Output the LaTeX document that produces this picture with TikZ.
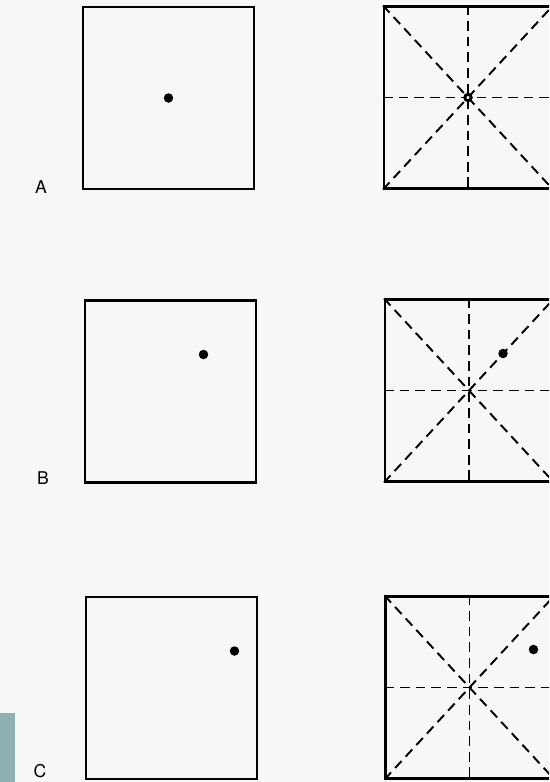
\documentclass[tikz,border=0pt]{standalone}
\usepackage{fontspec}
\setsansfont{TeX Gyre Heros}
\usetikzlibrary{calc}
\definecolor{paper}{RGB}{247,247,247}
\definecolor{tabteal}{RGB}{143,176,176}

\begin{document}
\begin{tikzpicture}[
  x=0.02cm, y=-0.02cm,
  panel/.style={draw, line width=1.2pt, minimum width=3.42cm, minimum height=3.64cm, inner sep=0pt},
  wide/.style={panel, minimum width=3.36cm},
  guide/.style={line width=1.1pt, dash pattern=on 5.5pt off 3.4pt},
  spot/.style={circle, fill, inner sep=0pt, minimum size=0.19cm},
  ring/.style={circle, draw, fill=white, line width=1.5pt, inner sep=0pt, minimum size=0.12cm},
  tag/.style={font=\sffamily\fontsize{10}{12}\selectfont}
]
  \useasboundingbox (0,0) rectangle (549,782);
  \fill[paper] (0,0) rectangle (549,782);
  \fill[tabteal] (0,713) rectangle (15,782);
  \clip (0,0) rectangle (549,782);

  % row A: centred
  \node[panel] (Aleft) at (168.5,98) {};
  \node[wide] (Aright) at (468,97.5) {};
  \node[spot] (Aspot) at (Aleft.center) {};
  \node[tag] (Atag) at (41,187) {A};

  % row B
  \node[panel] (Bleft) at (170.5,391.5) {};
  \node[wide] (Bright) at (469,390.5) {};
  \node[spot] (Bspot) at ($(Bleft.center)+(33,-37)$) {};
  \node[tag] (Btag) at (43,478) {B};

  % row C
  \node[panel] (Cleft) at (171.5,688) {};
  \node[wide] (Cright) at (469.5,687.5) {};
  \node[spot] (Cspot) at ($(Cleft.center)+(63,-37)$) {};
  \node[tag] (Ctag) at (40,771) {C};

  % symmetry axes
  \foreach \p in {Aright,Bright,Cright}{
    \draw[guide] (\p.north west) -- (\p.south east);
    \draw[guide] (\p.south west) -- (\p.north east);
    \draw[guide] (\p.north) -- (\p.south);
    \draw[guide] (\p.west) -- (\p.east);
  }

  \node[spot] (Adot) at (Aright.center) {};
  \node[ring] (Aeye) at (Aright.center) {};
  \node[spot] (Bdot) at ($(Bright.center)+(34,-37)$) {};
  \node[spot] (Cdot) at ($(Cright.center)+(64,-38)$) {};
\end{tikzpicture}
\end{document}
